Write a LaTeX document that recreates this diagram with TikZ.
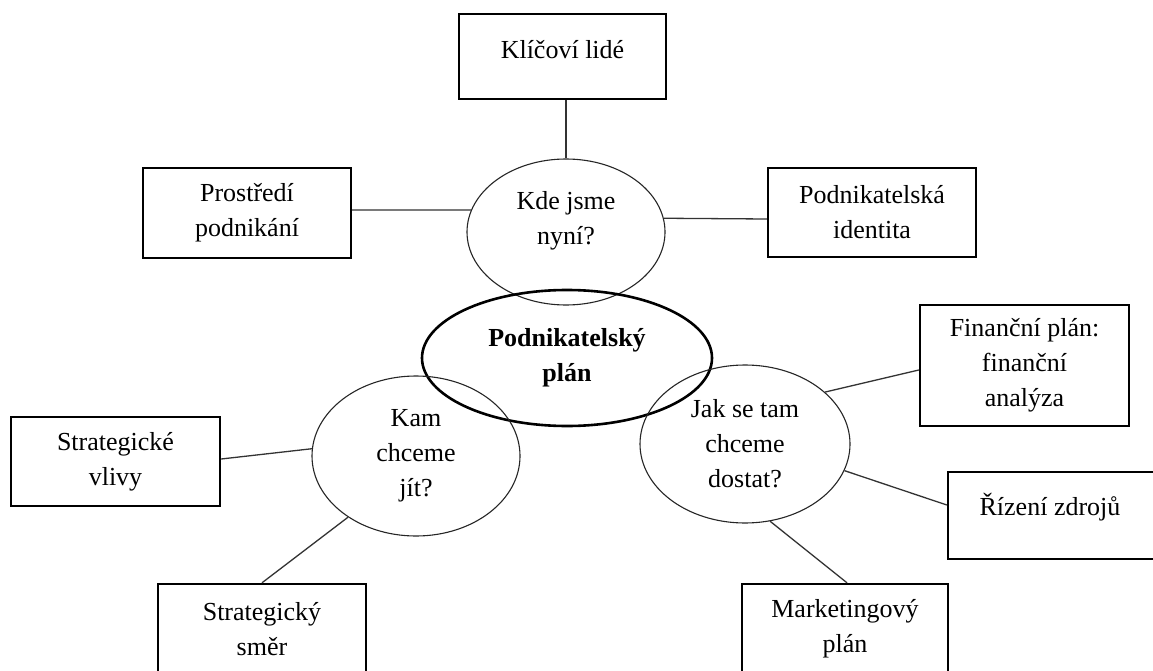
\documentclass[tikz,border=0pt]{standalone}
\usepackage{fontspec}
\setmainfont{Liberation Serif}
\usetikzlibrary{shapes.geometric}
\begin{document}
\begin{tikzpicture}[x=1pt,y=-1pt,
  fnt/.style={font=\fontsize{26}{35}\selectfont},
  box/.style={fnt, draw=black, line width=2.4pt, rectangle, inner sep=0pt, align=center},
  oval/.style={fnt, draw=black!85, line width=1.1pt, ellipse, inner sep=0pt, align=center},
  bigoval/.style={oval, draw=black, line width=2.6pt, font=\fontsize{26}{35}\selectfont\bfseries},
  txt/.style={fnt, inner sep=0pt, align=center},
  link/.style={draw=black!80, line width=1.3pt}]
\useasboundingbox (0,0) rectangle (1153,671);
\clip (0,0) rectangle (1153,671);
\fill[white] (0,0) rectangle (1153,671);

% ellipses
\node[oval, minimum width=198pt, minimum height=146pt] (kde) at (566,232) {};
\node[txt] (kdet) at (566,221) {Kde jsme\\nyní?};
\node[bigoval, minimum width=290pt, minimum height=136pt] (pp) at (567,358) {Podnikatelský\\plán};
\node[oval, minimum width=208pt, minimum height=160pt] (kam) at (416,456) {Kam\\chceme\\jít?};
\node[oval, minimum width=210pt, minimum height=158pt] (jak) at (745,444) {Jak se tam\\chceme\\dostat?};

% boxes
\node[box, minimum width=207pt, minimum height=85pt] (k) at (562.5,56.5) {};
\node[txt] (kt) at (562.5,50) {Klíčoví lidé};
\node[box, minimum width=208pt, minimum height=90pt] (p) at (247,213) {Prostředí\\podnikání};
\node[box, minimum width=208pt, minimum height=89pt] (id) at (872,212.5) {Podnikatelská\\identita};
\node[box, minimum width=209pt, minimum height=121pt] (fin) at (1024.5,365.5) {Finanční plán:\\finanční\\analýza};
\node[box, minimum width=209pt, minimum height=89pt] (sv) at (115.5,461.5) {Strategické\\vlivy};
\node[box, minimum width=222pt, minimum height=87pt] (rz) at (1059,515.5) {};
\node[txt] (rzt) at (1050,507) {Řízení zdrojů};
\node[box, minimum width=208pt, minimum height=116pt] (ss) at (262,642) {};
\node[txt] (sst) at (262,629) {Strategický\\směr};
\node[box, minimum width=206pt, minimum height=116pt] (mk) at (845,642) {};
\node[txt] (mkt) at (845,629) {Marketingový\\plán};

% connectors
\draw[link] (kde.north |- k.south) -- (kde.north);
\draw[link] ([yshift=3pt]p.east) -- (kde.167);
\draw[link] ([yshift=-6.5pt]id.west) -- (kde.8);
\draw[link] ([yshift=-4.5pt]fin.west) -- (jak.33);
\draw[link] ([yshift=10.5pt]rz.west) -- (jak.345);
\draw[link] ([xshift=2pt]mk.north) -- (jak.288);
\draw[link] ([yshift=2.5pt]sv.east) -- (kam.176);
\draw[link] (ss.north) -- (kam.222);
\end{tikzpicture}
\end{document}
